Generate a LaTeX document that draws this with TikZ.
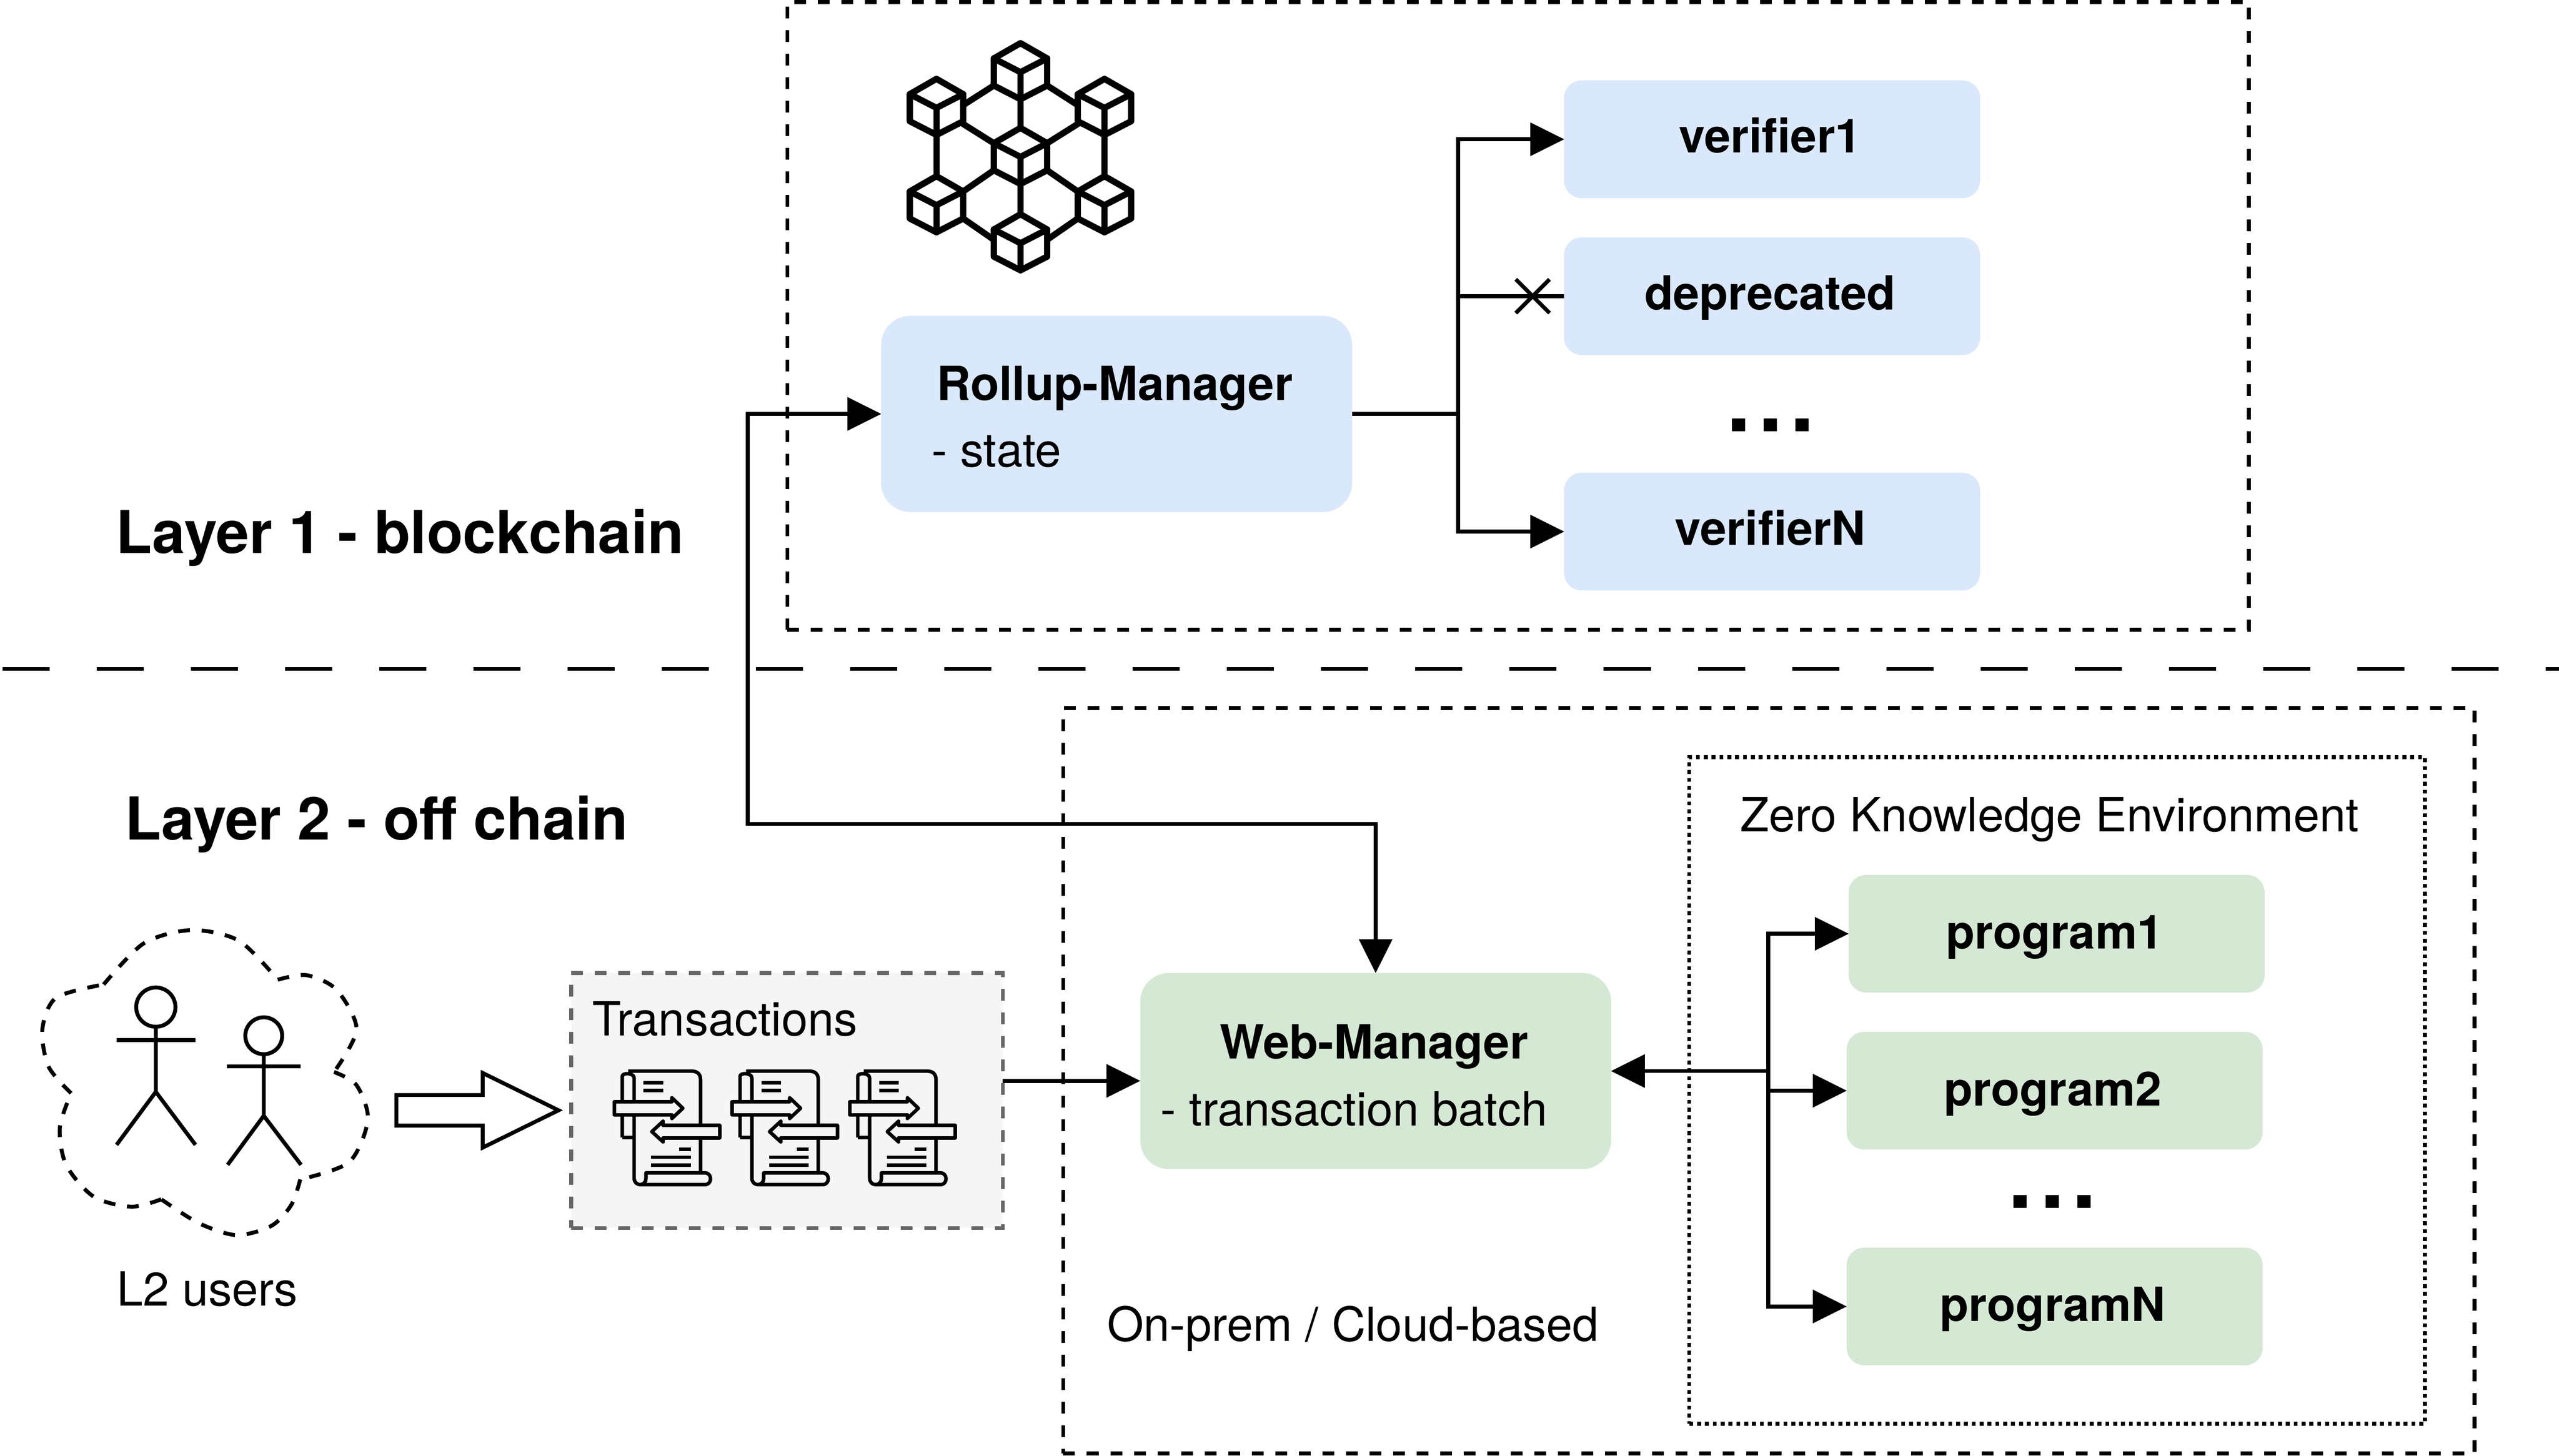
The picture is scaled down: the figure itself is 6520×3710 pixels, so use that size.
\documentclass[tikz,border=0pt]{standalone}
\usepackage{fontspec}
\setmainfont{TeX Gyre Heros}
\usetikzlibrary{arrows.meta,calc,shapes.misc}
\definecolor{bluebox}{HTML}{DAE8FC}
\definecolor{greenbox}{HTML}{D5E8D4}
\definecolor{txfill}{HTML}{F5F5F5}
\definecolor{txline}{HTML}{666666}
\tikzset{
  conn/.style={draw=black,line width=5pt},
  arr/.style={conn,-{Triangle[length=43pt,width=43pt,line width=0pt]}},
  biarr/.style={conn,{Triangle[length=43pt,width=43pt,line width=0pt]}-{Triangle[length=43pt,width=43pt,line width=0pt]}},
  dashbox/.style={draw=black,line width=5pt,dash pattern=on 15pt off 15pt,inner sep=0pt,outer sep=0pt},
  dotbox/.style={draw=black,line width=5pt,dash pattern=on 5pt off 5pt,inner sep=0pt,outer sep=0pt},
  smallbox/.style={rounded corners=22.5pt,inner sep=0pt,outer sep=0pt,minimum width=530pt,minimum height=150pt,
    font=\fontsize{60}{70}\selectfont\bfseries,text height=34pt,text depth=0pt,execute at end node=\kern5pt},
  greentext/.style={text height=38pt},
  bigbox/.style={rounded corners=37pt,inner sep=0pt,outer sep=0pt,minimum width=600pt,minimum height=250pt},
  bold/.style={font=\fontsize{60}{70}\selectfont\bfseries,inner sep=0pt,anchor=base},
  plain/.style={font=\fontsize{60}{70}\selectfont,inner sep=0pt,anchor=base},
  plainleft/.style={plain,anchor=base west},
  title/.style={font=\fontsize{75.4}{90}\selectfont\bfseries,inner sep=0pt,anchor=base},
  dots/.style={font=\fontsize{112}{130}\selectfont\bfseries,inner sep=0pt,anchor=base},
  icon/.style={line width=8pt,line join=round,line cap=round},
  stick/.style={line width=5pt},
  docline/.style={line width=4.5pt,line join=round},
  docbar/.style={line width=4.5pt},
}
\newcommand{\txdoc}[1]{%
  \begin{scope}[shift={(#1,2440)},xscale=0.7524,yscale=0.4591]
    \draw[docline] (220,1000) -- (220,660) .. controls (220,640) and (260,640) .. (260,670) -- (260,1225)
       .. controls (260,1250) and (270,1262) .. (280,1262) -- (500,1262)
       .. controls (525,1262) and (525,1197) .. (500,1197) -- (300,1197) -- (300,1230)
       .. controls (300,1250) and (290,1262) .. (280,1262);
    \draw[docline] (220,1000) -- (260,1000);
    \draw[docline] (240,632) -- (455,632) .. controls (475,632) and (485,650) .. (485,680) -- (485,1197);
    \draw[docline,fill=txfill] (193,802) -- (388,802) -- (388,780) -- (425,838) -- (388,895) -- (388,875) -- (193,875) -- cycle;
    \draw[docline,fill=txfill] (550,933) -- (358,933) -- (358,910) -- (320,968) -- (358,1025) -- (358,1003) -- (550,1003) -- cycle;
    \draw[docbar] (292,697) -- (358,697) (292,740) -- (358,740) (412,1067) -- (452,1067) (318,1110) -- (452,1110) (318,1153) -- (452,1153);
  \end{scope}}
\begin{document}
\begin{tikzpicture}[x=0.5pt,y=-0.5pt]
\useasboundingbox (0,0) rectangle (6520,3710);
\fill[white] (0,0) rectangle (6520,3710);

% containers
\node[dashbox,minimum width=1862pt,minimum height=800pt] (l1box) at (3868,805) {};
\node[dashbox,minimum width=1798pt,minimum height=950pt] (l2box) at (4507,2755) {};
\node[dotbox,minimum width=937pt,minimum height=849.5pt] (zk) at (5241,2779.5) {};
\node[draw=txline,fill=txfill,line width=5pt,dash pattern=on 15pt off 15pt,inner sep=0pt,outer sep=0pt,minimum width=550pt,minimum height=325pt] (tx) at (2005,2805) {};

% separator
\draw[line width=5pt,dash pattern=on 60pt off 60pt] (6,1705) -- (6520,1705);

% boxes
\node[bigbox,fill=bluebox] (rollup) at (2845,1055) {};
\node[bigbox,fill=greenbox] (web) at (3505,2730) {};
\node[smallbox,fill=bluebox] (v1) at (4515,355) {verifier1};
\node[smallbox,fill=bluebox] (dep) at (4515,755) {deprecated};
\node[smallbox,fill=bluebox] (vn) at (4515,1355) {verifierN};
\node[smallbox,greentext,fill=greenbox] (p1) at (5240,2380) {program1};
\node[smallbox,greentext,fill=greenbox] (p2) at (5235,2780) {program2};
\node[smallbox,greentext,fill=greenbox] (pn) at (5235,3330) {programN};

% texts
\node[title] (t1) at (1019,1410) {Layer 1 - blockchain};
\node[title] (t2) at (960,2140) {Layer 2 - off chain};
\node[plain] (tz) at (5222,2120) {Zero Knowledge Environment};
\node[plainleft] (tt) at (1509,2640) {Transactions};
\node[plain] (tu) at (528,3329) {L2 users};
\node[plain] (tc) at (3447,3418) {On-prem / Cloud-based};
\node[bold] (tr) at (2840,1020) {Rollup-Manager};
\node[plainleft] (ts) at (2373,1190) {- state};
\node[bold] (tw) at (3501,2699) {Web-Manager};
\node[plainleft] (tb) at (2956,2870) {- transaction batch};
\node[dots] (d1) at (4511,1100) {.\kern9.5pt.\kern9.5pt.};
\node[dots] (d2) at (5229,3080) {.\kern9.5pt.\kern9.5pt.};

% connectors
\coordinate (jr) at (3715,1055);
\coordinate (jp) at (4505,2730);
\coordinate (jl) at (1905,2100);
\coordinate (txrow) at (2700,2755);
\draw[conn] (rollup.east) -- (jr);
\draw[arr] (jr) |- (v1.west);
\draw[arr] (jr) |- (vn.west);
\draw[conn] (dep.west) -- (jr |- dep.west);
\node[draw,cross out,line width=5pt,minimum size=43pt,inner sep=0pt,outer sep=0pt] (xm) at (3905,755) {};
\draw[biarr] (rollup.west) -| (jl) -| (web.north);
\draw[arr] (tx.east |- txrow) -- (web.west |- txrow);
\draw[arr] (jp) -- (web.east);
\draw[arr] (jp) |- (p1.west);
\draw[arr] (jp) |- (p2.west);
\draw[arr] (jp) |- (pn.west);

% block arrow
\draw[line width=5pt,miter limit=10] (1010,2791) -- (1230,2791) -- (1230,2735) -- (1423,2830) -- (1230,2925) -- (1230,2869) -- (1010,2869) -- cycle;

% blockchain icon
\foreach \cx/\cy in {2600/184,2386/275,2814/275,2600/400,2386/523,2814/523,2600/620}{
  \draw[icon] (\cx-68,\cy-35) -- (\cx,\cy-74) -- (\cx+68,\cy-35) -- (\cx+68,\cy+34) -- (\cx,\cy+69) -- (\cx-68,\cy+34) -- cycle;
  \draw[icon] (\cx-68,\cy-35) -- (\cx,\cy) -- (\cx+68,\cy-35);
  \draw[icon] (\cx,\cy) -- (\cx,\cy+69);
}
\draw[icon] (2532,218) -- (2454,268) (2668,218) -- (2746,268);
\draw[icon] (2600,253) -- (2600,326);
\draw[icon] (2454,316) -- (2532,365) (2746,316) -- (2668,365);
\draw[icon] (2386,344) -- (2386,449) (2814,344) -- (2814,449);
\draw[icon] (2532,434) -- (2454,488) (2668,434) -- (2746,488);
\draw[icon] (2600,469) -- (2600,546);
\draw[icon] (2454,557) -- (2532,611) (2746,557) -- (2668,611);

% users
\begin{scope}[shift={(60,2320)},xscale=0.638,yscale=0.676]
  \draw[line width=5pt,dash pattern=on 15pt off 15pt]
    plot[smooth] coordinates {(320,280) (480,125) (670,75) (860,115) (1015,262)}
    plot[smooth] coordinates {(1015,262) (1130,245) (1250,300) (1330,450) (1240,610)}
    plot[smooth] coordinates {(1240,610) (1330,660) (1375,790) (1300,950) (1105,1015)}
    plot[smooth] coordinates {(1105,1015) (1070,1110) (990,1190) (850,1225) (700,1180) (550,1090)}
    plot[smooth] coordinates {(550,1090) (430,1118) (280,1080) (170,960) (145,820) (190,690)}
    plot[smooth] coordinates {(190,690) (100,590) (75,450) (130,330) (320,280)};
\end{scope}
\draw[stick] (397,2567) circle[radius=25pt];
\draw[stick] (397,2618) -- (397,2783) (297,2651) -- (498,2651) (297,2918) -- (397,2783) -- (498,2918);
\draw[stick] (672,2640) circle[radius=23.5pt];
\draw[stick] (672,2687) -- (672,2844) (578,2718) -- (766,2718) (580,2969) -- (672,2844) -- (767,2969);

% transaction documents
\txdoc{1420}
\txdoc{1720}
\txdoc{2020}
\end{tikzpicture}
\end{document}
